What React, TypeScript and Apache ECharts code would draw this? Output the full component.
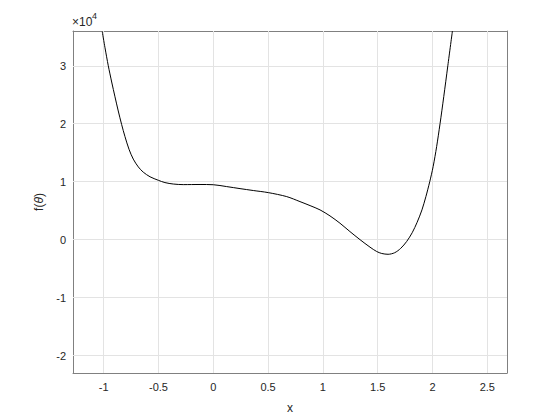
import React, { useEffect, useRef } from "react";
import * as echarts from "echarts";

const xValues = [
  -1.013, -0.988, -0.958, -0.927, -0.897, -0.867, -0.836, -0.806, -0.769, -0.73, -0.684, -0.639, -0.577, -0.502, -0.441, -0.365, -0.274, -0.121, 0.0, 0.122, 0.244, 0.365, 0.502, 0.67, 0.791, 0.883, 0.974, 1.065, 1.156, 1.247, 1.339, 1.43, 1.491, 1.537, 1.595, 1.655, 1.71, 1.765, 1.815, 1.86, 1.904, 1.94, 1.975, 2.006, 2.038, 2.069, 2.103, 2.14, 2.182,
];
const yValues = [
  3.588, 3.31, 3.0, 2.72, 2.465, 2.22, 1.985, 1.78, 1.56, 1.39, 1.255, 1.165, 1.085, 1.025, 0.985, 0.96, 0.95, 0.952, 0.948, 0.916, 0.881, 0.848, 0.812, 0.743, 0.657, 0.588, 0.514, 0.41, 0.284, 0.14, 0.0, -0.129, -0.204, -0.238, -0.252, -0.225, -0.15, -0.03, 0.12, 0.3, 0.514, 0.743, 1.0, 1.26, 1.605, 2.0, 2.467, 3.0, 3.6,
];
const xTicks = [-1, -0.5, 0, 0.5, 1, 1.5, 2, 2.5];
const yTicks = [-2, -1, 0, 1, 2, 3];
const xLimits = [-1.28, 2.68];
const yLimits = [-2.3, 3.6];

export default function App() {
  const ref = useRef<HTMLDivElement>(null);
  useEffect(() => {
    if (!ref.current) return;
    const chart = echarts.init(ref.current, null, { renderer: "svg" });
    const font = "Liberation Sans, Arial, Helvetica, sans-serif";
    const lineColor = "#808080";
    const tickColor = "#404040";
    const labelColor = "#262626";
    const data = xValues.map((x, i) => [x, yValues[i]]);
    const baseX = {
      type: "value" as const,
      min: xLimits[0],
      max: xLimits[1],
      axisLine: { show: true, onZero: false, lineStyle: { color: lineColor, width: 1 } },
      axisTick: { show: true, inside: true, length: 5, customValues: xTicks, lineStyle: { color: tickColor } },
      splitLine: { show: false },
    };
    const baseY = {
      type: "value" as const,
      min: yLimits[0],
      max: yLimits[1],
      axisLine: { show: true, onZero: false, lineStyle: { color: lineColor, width: 1 } },
      axisTick: { show: true, inside: true, length: 5, customValues: yTicks, lineStyle: { color: tickColor } },
      splitLine: { show: false },
    };
    chart.setOption({
      animation: false,
      backgroundColor: "#ffffff",
      grid: { left: 73, top: 31, width: 434, height: 342, containLabel: false },
      xAxis: [
        {
          ...baseX,
          position: "bottom",
          name: "x",
          nameLocation: "middle",
          nameGap: 29,
          nameTextStyle: { color: labelColor, fontSize: 12, fontFamily: font },
          axisLabel: {
            show: true,
            customValues: xTicks,
            margin: 8,
            color: labelColor,
            fontSize: 11,
            fontFamily: font,
            formatter: (v: number) => String(v),
          },
        },
        {
          ...baseX,
          position: "top",
          axisLabel: { show: false },
        },
      ],
      yAxis: [
        {
          ...baseY,
          position: "left",
          name: "{a|f(}{b|θ}{a|)}",
          nameLocation: "middle",
          nameGap: 27,
          nameRotate: 90,
          nameTextStyle: {
            color: labelColor,
            fontFamily: font,
            rich: {
              a: { fontSize: 12, fontFamily: font, color: labelColor },
              b: { fontSize: 12, fontFamily: font, fontStyle: "italic", color: labelColor },
            },
          },
          axisLabel: {
            show: true,
            customValues: yTicks,
            margin: 7,
            color: labelColor,
            fontSize: 11,
            fontFamily: font,
            formatter: (v: number) => String(v),
          },
        },
        {
          ...baseY,
          position: "right",
          axisLabel: { show: false },
        },
      ],
      graphic: [
        {
          type: "text",
          left: 72,
          top: 16,
          style: { text: "×10", fontSize: 12, fontFamily: font, fill: labelColor },
        },
        {
          type: "text",
          left: 92,
          top: 11,
          style: { text: "4", fontSize: 9, fontFamily: font, fill: labelColor },
        },
      ],
      series: [
        {
          type: "line",
          xAxisIndex: 0,
          yAxisIndex: 0,
          data,
          showSymbol: false,
          smooth: 0.3,
          clip: true,
          lineStyle: { color: "#000000", width: 1 },
          z: 3,
          markLine: {
            silent: true,
            symbol: "none",
            label: { show: false },
            lineStyle: { color: "#e3e3e3", width: 1, type: "solid" },
            data: [
              ...xTicks.map((v) => ({ xAxis: v })),
              ...yTicks.map((v) => ({ yAxis: v })),
            ],
            z: 1,
          },
        },
      ],
    });
    return () => chart.dispose();
  }, []);
  return (
    <div
      ref={ref}
      style={{ position: "fixed", left: 0, top: 0, width: 560, height: 420, background: "#fff" }}
    />
  );
}
